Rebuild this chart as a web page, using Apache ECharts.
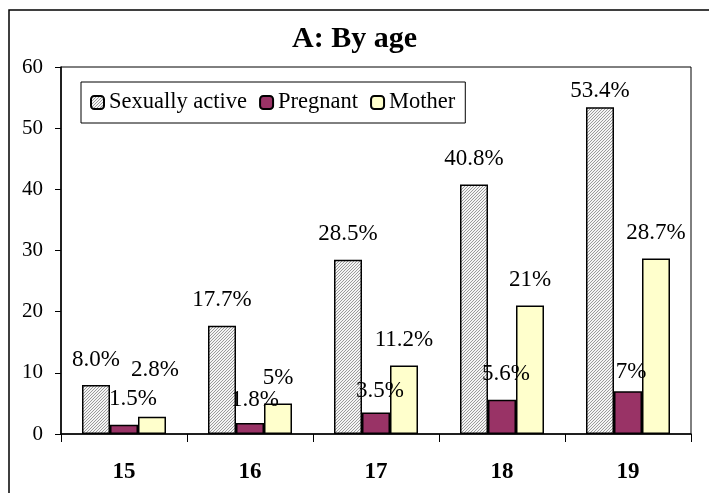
<!DOCTYPE html>
<html>
<head>
<meta charset="utf-8">
<script src="https://cdn.jsdelivr.net/npm/echarts@6/dist/echarts.min.js"></script>
<style>
  html, body { margin: 0; padding: 0; background: #fff; }
  #chart { width: 709px; height: 493px; }
</style>
</head>
<body>
<div id="chart"></div>
<script>
const ages = ['15', '16', '17', '18', '19'];
const sexuallyActive = [8.0, 17.7, 28.5, 40.8, 53.4];
const pregnant = [1.5, 1.8, 3.5, 5.6, 7];
const mother = [2.8, 5, 11.2, 21, 28.7];

const serif = 'Liberation Serif, Times New Roman, serif';

// fine diagonal hatching like the old excel fill
function hatch() {
  const c = document.createElement('canvas');
  c.width = 3;
  c.height = 3;
  const ctx = c.getContext('2d');
  ctx.fillStyle = '#f4f4f4';
  ctx.fillRect(0, 0, 3, 3);
  ctx.fillStyle = '#9a9a9a';
  for (let i = 0; i < 3; i++) ctx.fillRect(i, 2 - i, 1, 1);
  return c;
}

// hand nudges of some data labels, [dx, dy] by series then point
const nudge = {
  0: { 4: [0, 9] },
  1: { 0: [9, 0], 1: [5, 2], 2: [4, 4], 3: [4, 0], 4: [3, 6] },
  2: { 0: [3, -21] },
};

function makeSeries(name, values, idx, color, fmt) {
  return {
    name: name,
    type: 'bar',
    barWidth: 28,
    barGap: '0%',
    itemStyle: { color: color, borderColor: '#000', borderWidth: 1.5 },
    label: {
      show: true,
      position: 'top',
      distance: 14,
      fontFamily: serif,
      fontSize: 23,
      color: '#000',
      formatter: (p) => fmt(p.value) + '%',
    },
    data: values.map((v, i) => {
      const n = nudge[idx][i];
      return n ? { value: v, label: { offset: n } } : v;
    }),
  };
}

const chart = echarts.init(document.getElementById('chart'));
chart.setOption({
  animation: false,
  backgroundColor: '#fff',
  title: {
    text: 'A: By age',
    left: 'center',
    top: 19,
    textStyle: { fontFamily: serif, fontSize: 30, fontWeight: 'bold', color: '#000' },
  },
  legend: {
    left: 81,
    top: 82,
    padding: [9, 10, 9, 9],
    itemWidth: 13,
    itemHeight: 13,
    itemGap: 12,
    borderColor: '#000',
    borderWidth: 1,
    textStyle: { fontFamily: serif, fontSize: 22.5, color: '#000' },
    data: ['Sexually active', 'Pregnant', 'Mother'],
  },
  grid: {
    left: 61,
    right: 18,
    top: 67,
    bottom: 59,
    show: true,
    borderColor: '#000',
    borderWidth: 1,
  },
  xAxis: {
    type: 'category',
    data: ages,
    axisLine: { lineStyle: { color: '#000', width: 1.5 } },
    axisTick: { show: true, length: 8, lineStyle: { color: '#000' } },
    axisLabel: { fontFamily: serif, fontSize: 23, fontWeight: 'bold', color: '#000', margin: 27 },
  },
  yAxis: {
    type: 'value',
    min: 0,
    max: 60,
    interval: 10,
    splitLine: { show: false },
    axisLine: { show: true, lineStyle: { color: '#000', width: 1.5 } },
    axisTick: { show: true, length: 6, lineStyle: { color: '#000' } },
    axisLabel: { fontFamily: serif, fontSize: 21, color: '#000', margin: 18 },
  },
  graphic: [
    {
      type: 'rect',
      shape: { x: 9, y: 10, width: 720, height: 500 },
      style: { fill: 'none', stroke: '#000', lineWidth: 1.5 },
      silent: true,
    },
  ],
  series: [
    makeSeries('Sexually active', sexuallyActive, 0,
      { image: hatch(), repeat: 'repeat' }, (v) => v.toFixed(1)),
    makeSeries('Pregnant', pregnant, 1, '#993366', (v) => String(v)),
    makeSeries('Mother', mother, 2, '#ffffcc', (v) => String(v)),
  ],
});
</script>
</body>
</html>
